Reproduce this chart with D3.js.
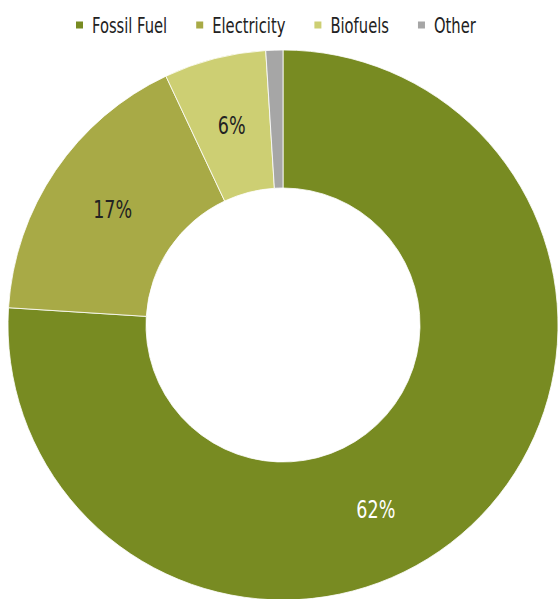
<!DOCTYPE html>
<html>
<head>
<meta charset="utf-8">
<script src="https://cdn.jsdelivr.net/npm/d3@7"></script>
<style>
  body { margin: 0; background: #fff; }
  text { font-family: "DejaVu Sans Condensed", "Liberation Sans Narrow", sans-serif; font-stretch: condensed; }
</style>
</head>
<body>
<div id="chart"></div>
<script>
let categories = ['Fossil Fuel', 'Electricity', 'Biofuels', 'Other']
let shares = [76, 17, 6, 1]
let labels = ['62%', '17%', '6%', '']
let colors = ['#788b22', '#a8aa46', '#cdcf73', '#a6a6a6']
let labelColors = ['#ffffff', '#222222', '#222222', '#222222']

let width = 558
let height = 599
let cx = 283, cy = 325
let outerRadius = 275
let innerRadius = 137
let squeeze = 0.78   // narrow the font to look condensed

let data = categories.map(function(c, i) {
  return {name: c, value: shares[i], label: labels[i], color: colors[i], labelColor: labelColors[i]}
})

let svg = d3.select('#chart').append('svg')
  .attr('width', width)
  .attr('height', height)

let pie = d3.pie().sort(null).value(function(d) { return d.value })
let arc = d3.arc().innerRadius(innerRadius).outerRadius(outerRadius)

let g = svg.append('g').attr('transform', `translate(${cx},${cy})`)

let slices = g.selectAll('g.slice')
  .data(pie(data))
  .enter().append('g').attr('class', 'slice')

slices.append('path')
  .attr('d', arc)
  .attr('fill', function(d) { return d.data.color })
  .attr('stroke', '#fff')
  .attr('stroke-width', 0.8)

// big slice label sits a bit past the middle of the slice, like the original
function labelPos(d) {
  let span = d.endAngle - d.startAngle
  let frac = span > Math.PI ? 0.56 : 0.5
  let a = d.startAngle + span * frac
  let r = (innerRadius + outerRadius) / 2
  return [r * Math.sin(a), -r * Math.cos(a)]
}

slices.append('text')
  .attr('transform', function(d) { return 'translate(' + labelPos(d) + ') scale(' + squeeze + ',1)' })
  .attr('text-anchor', 'middle')
  .attr('dy', '0.36em')
  .attr('font-size', '25px')
  .attr('fill', function(d) { return d.data.labelColor })
  .text(function(d) { return d.data.label })

// legend
let legend = svg.append('g').attr('transform', 'translate(76,25)')
let xPos = 0
data.forEach(function(d) {
  let item = legend.append('g').attr('transform', `translate(${xPos},0)`)
  item.append('rect')
    .attr('x', 0).attr('y', -3.5)
    .attr('width', 7).attr('height', 7)
    .attr('fill', d.color)
  let t = item.append('text')
    .attr('transform', `translate(16,0) scale(0.78,1)`)
    .attr('dy', '0.36em')
    .attr('font-size', '21px')
    .attr('fill', '#222')
    .text(d.name)
  xPos += 16 + t.node().getComputedTextLength() * 0.78 + 29
})
</script>
</body>
</html>
